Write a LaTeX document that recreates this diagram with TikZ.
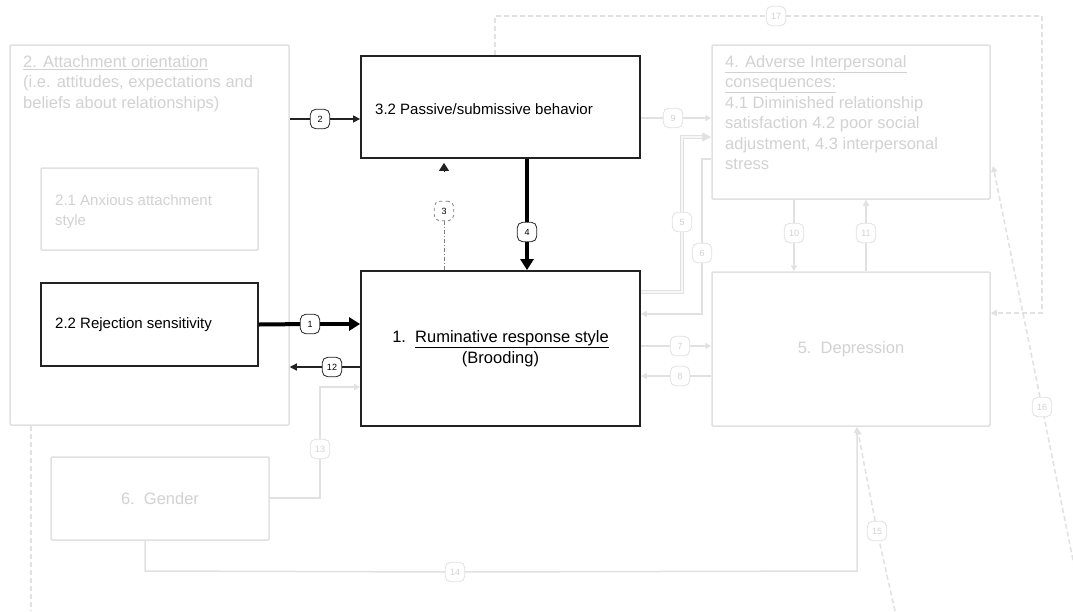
\documentclass[tikz,border=0pt]{standalone}
\usepackage{fontspec}
\setmainfont{Liberation Sans}
\usetikzlibrary{arrows.meta,calc}
\definecolor{lg}{HTML}{E1E1E1}
\definecolor{lgt}{HTML}{D2D2D2}
\definecolor{dk}{HTML}{222222}
\begin{document}
\begin{tikzpicture}[x=1pt,y=-1pt,
 lbox/.style={draw=lg, line width=1.5pt, rounded corners=1pt, inner sep=0pt},
 dbox/.style={draw=dk, line width=1.8pt, inner sep=0pt},
 ltext/.style={text=lgt, font=\fontsize{16.5}{20.5}\selectfont, align=left, inner sep=0pt},
 dtext/.style={text=black, font=\fontsize{15}{20}\selectfont, inner sep=0pt},
 lab/.style={draw=dk, fill=white, rounded corners=5.5pt, minimum size=19.5pt, inner sep=0pt, font=\fontsize{9}{10}\selectfont, line width=0.8pt},
 llab/.style={lab, draw=lg, text=lgt},
 lline/.style={draw=lg, line width=1.5pt},
 larr/.style={lline, -{Triangle[length=6pt,width=6pt]}},
 dline/.style={draw=dk, line width=1.2pt},
 darr/.style={dline, -{Triangle[length=7pt,width=7pt]}},
 tline/.style={draw=black, line width=4pt},
 tarr/.style={tline, -{Triangle[length=11pt,width=13pt]}},
 ldash/.style={draw=lg, line width=1.5pt, dash pattern=on 5pt off 3pt},
 dblline/.style={draw=lg, line width=1.3pt, double=gray!6, double distance=2pt},
]
\useasboundingbox (0,0) rectangle (1073,611);
\fill[white] (0,0) rectangle (1073,611);

% boxes
\node[lbox, minimum width=279pt, minimum height=380pt] (att) at (149.5,235) {};
\node[lbox, minimum width=217pt, minimum height=82pt] (b21) at (149.5,209) {};
\node[dbox, line width=1.5pt, minimum width=217pt, minimum height=83pt] (b22) at (149.5,324.5) {};
\node[dbox, minimum width=279pt, minimum height=102pt] (b32) at (500.5,107) {};
\node[dbox, minimum width=279pt, minimum height=155pt, align=center,
      font=\fontsize{16.5}{21}\selectfont] (b1) at (500.5,348.5)
      {1.\ \ \underline{Ruminative response style}\\(Brooding)};
\node[lbox, minimum width=278pt, minimum height=154pt] (b4) at (851,122) {};
\node[lbox, minimum width=278pt, minimum height=154pt, text=lgt,
      font=\fontsize{16.5}{20}\selectfont] (b5) at (851,349) {5.\ \ Depression};
\node[lbox, minimum width=218pt, minimum height=83pt, text=lgt,
      font=\fontsize{16.5}{20}\selectfont] (gen) at (160,498.5) {6.\ \ Gender};

% box texts
\node[ltext, anchor=north west] (t2) at (23,55)
  {\underline{2. Attachment orientation}\\(i.e. attitudes, expectations and\\beliefs about relationships)};
\node[ltext, anchor=north west] (t4) at (725,55)
  {\underline{4. Adverse Interpersonal}\\\underline{consequences:}\\4.1 Diminished relationship\\satisfaction 4.2 poor social\\adjustment, 4.3 interpersonal\\stress};
\node[ltext, font=\fontsize{15}{20}\selectfont, anchor=north west] (t21) at (55,194)
  {2.1 Anxious attachment\\style};
\node[dtext, anchor=west] (t22) at (55,325) {2.2 Rejection sensitivity};
\node[dtext, anchor=west] (t32) at (375,109) {3.2 Passive/submissive behavior};

% labels
\node[lab] (l1) at (310,324) {1};
\node[lab] (l2) at (320,119) {2};
\node[lab, dashed, draw=gray] (l3) at (444,211) {3};
\node[lab] (l4) at (527,232) {4};
\node[lab] (l12) at (332,367) {12};
\node[llab] (l5) at (682,222) {5};
\node[llab] (l6) at (702,253) {6};
\node[llab] (l7) at (680,346) {7};
\node[llab] (l8) at (680,376) {8};
\node[llab] (l9) at (673,118) {9};
\node[llab] (l10) at (794,233) {10};
\node[llab] (l11) at (866,233) {11};
\node[llab] (l13) at (320,449) {13};
\node[llab] (l14) at (455,572) {14};
\node[llab] (l15) at (877,531) {15};
\node[llab] (l16) at (1042,407) {16};
\node[llab] (l17) at (776,16) {17};

% coordinates
\coordinate (c3) at (444,172);
\coordinate (c5a) at (682,292);
\coordinate (c5b) at (682,137);
\coordinate (c6a) at (702,159);
\coordinate (c6b) at (702,314);
\coordinate (c13a) at (320,498);
\coordinate (c13b) at (320,387);
\coordinate (c14a) at (145,571);
\coordinate (c14b) at (857,571);
\coordinate (c15) at (895,611);
\coordinate (c16a) at (1073,560);
\coordinate (c16b) at (993,166);
\coordinate (c17a) at (495,16);
\coordinate (c17b) at (1042,16);
\coordinate (c17c) at (1042,313);
\coordinate (c2) at (31,611);

% black connectors
\draw[tline] (b22.east) -- (l1);
\draw[tarr] (l1) -- (b1.west |- l1);
\draw[dline] (att.east |- l2) -- (l2);
\draw[darr] (l2) -- (b32.west |- l2);
\draw[dline] (b1.west |- l12) -- (l12);
\draw[darr] (l12) -- (att.east |- l12);
\draw[tline] (b32.south -| l4) -- (l4);
\draw[tarr] (l4) -- (b1.north -| l4);
\draw[draw=gray, line width=1pt, dash pattern=on 4pt off 2pt on 1pt off 2pt] (b1.north -| l3) -- (l3);
\draw[dk, line width=0.8pt, -{Triangle[length=8pt,width=10pt]}, shorten >=4pt] (c3) -- (b32.south -| c3);

% light connectors
\draw[lline] (b32.east |- l9) -- (l9);
\draw[larr] (l9) -- (b4.west |- l9);
\draw[dblline] (b1.east |- c5a) -- (c5a) -- (l5);
\draw[dblline, -{Triangle[length=9pt,width=9pt]}] (l5) -- (c5b) -- (b4.west |- c5b);
\draw[lline] (b4.west |- c6a) -- (c6a) -- (l6);
\draw[larr] (l6) -- (c6b) -- (b1.east |- c6b);
\draw[lline] (b1.east |- l7) -- (l7);
\draw[larr] (l7) -- (b5.west |- l7);
\draw[lline] (b5.west |- l8) -- (l8);
\draw[larr] (l8) -- (b1.east |- l8);
\draw[lline] (b4.south -| l10) -- (l10);
\draw[larr] (l10) -- (b5.north -| l10);
\draw[lline] (b5.north -| l11) -- (l11);
\draw[larr] (l11) -- (b4.south -| l11);
\draw[lline] (gen.east |- c13a) -- (c13a) -- (l13);
\draw[larr] (l13) -- (c13b) -- (b1.west |- c13b);
\draw[lline] (gen.south -| c14a) -- (c14a) -- (l14);
\draw[larr] (l14) -- (c14b) -- (b5.south -| c14b);
\draw[ldash] (c15) -- (l15);
\draw[ldash, -{Triangle[length=6pt,width=6pt]}, shorten >=2pt] (l15) -- (b5.south -| c14b);
\draw[ldash] (c16a) -- (l16);
\draw[ldash, -{Triangle[length=6pt,width=6pt]}] (l16) -- (c16b);
\draw[ldash] (b32.north -| c17a) -- (c17a) -- (l17);
\draw[ldash, -{Triangle[length=6pt,width=6pt]}] (l17) -- (c17b) -- (c17c) -- (b5.east |- c17c);
\draw[ldash] (att.south -| c2) -- (c2);
\end{tikzpicture}
\end{document}
